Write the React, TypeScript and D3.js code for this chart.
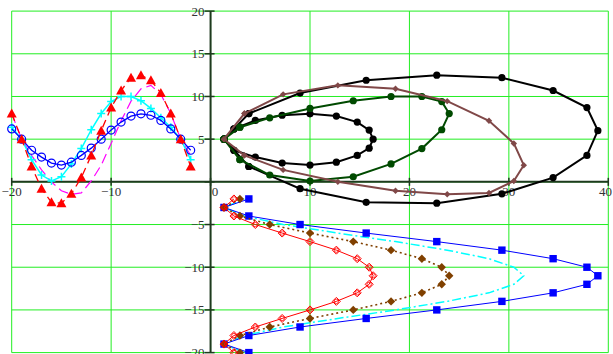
import React from "react";
import * as d3 from "d3";

// parameter values (left group x, bottom group y)
const tVals = [-20, -19, -18, -17, -16, -15, -14, -13, -12, -11, -10, -9, -8, -7, -6, -5, -4, -3, -2];

// "A" series (vertical values of left and top-right groups)
const A1 = [6.2, 5.0, 3.7, 2.9, 2.2, 1.96, 2.3, 3.1, 3.95, 5.0, 6.06, 7.0, 7.7, 7.97, 7.8, 7.2, 6.2, 5.0, 3.7];
const A2 = [6.4, 5.0, 2.6, 0.8, 0.1, 0.6, 2.1, 3.9, 6.1, 8.0, 9.4, 10.0, 10.0, 9.5, 8.6, 7.5, 6.4, 5.0, 2.6];
const A3 = [8.0, 5.0, 1.8, -0.8, -2.4, -2.5, -1.4, 0.5, 3.1, 6.0, 8.7, 10.7, 12.2, 12.5, 11.9, 10.4, 8.0, 5.0, 1.8];
const A4 = [8.0, 5.0, 3.1, 1.4, 0.0, -1.05, -1.45, -1.3, 0.1, 1.95, 4.5, 7.15, 9.45, 10.9, 11.3, 10.25, 8.0, 5.0, 3.1];

// "B" series (horizontal values of top-right and bottom groups)
const B1 = [2.35, 1.35, 2.35, 4.5, 7.2, 10.0, 12.65, 14.75, 15.95, 16.35, 15.95, 14.75, 12.65, 10.0, 7.2, 4.5, 2.35, 1.35, 2.35];
const B2 = [2.95, 1.35, 2.95, 5.95, 10.0, 14.35, 18.15, 21.25, 23.25, 24.0, 23.25, 21.25, 18.15, 14.35, 10.0, 5.95, 2.95, 1.35, 2.95];
const B3 = [3.85, 1.35, 3.85, 9.0, 15.65, 22.75, 29.3, 34.45, 37.85, 38.95, 37.85, 34.45, 29.3, 22.75, 15.65, 9.0, 3.85, 1.35, 3.85];
const B4 = [3.4, 1.35, 3.4, 7.3, 12.8, 18.6, 23.8, 28.0, 30.5, 31.5, 30.5, 28.0, 23.8, 18.6, 12.8, 7.3, 3.4, 1.35, 3.4];

const xTicks = [-20, -10, 0, 10, 20, 30, 40];
const yTicks = [20, 15, 10, 5, 0, -5, -10, -15, -20];
const xTickLabels = ["\u221220", "\u221210", "0", "10", "20", "30", "40"];
const yTickLabels = ["20", "15", "10", "5", "", "\u22125", "\u221210", "\u221215", "\u221220"];

const W = 613;
const H = 354;

type Pt = [number, number];

export default function App() {
  const x = d3.scaleLinear().domain([-20, 40]).range([11.7, 608.3]);
  const y = d3.scaleLinear().domain([-20, 20]).range([352.6, 11.1]);
  const line = d3
    .line<Pt>()
    .x((d) => x(d[0]))
    .y((d) => y(d[1]));

  const pairs = (xs: number[], ys: number[]): Pt[] => xs.map((v, i) => [v, ys[i]]);

  // left group
  const L1 = pairs(tVals, A1);
  const L2 = pairs(tVals, A2);
  const L3 = pairs(tVals, A3);
  const L4 = pairs(tVals, A4);
  // top-right group
  const R1 = pairs(B1, A1);
  const R2 = pairs(B2, A2);
  const R3 = pairs(B3, A3);
  const R4 = pairs(B4, A4);
  // bottom group
  const D1 = pairs(B1, tVals);
  const D2 = pairs(B2, tVals);
  const D3 = pairs(B3, tVals);
  const D4 = pairs(B4, tVals);

  const x0 = x(0);
  const y0 = y(0);
  const gridColor = "#22ee22";
  const axisColor = "#1e3a1e";

  const diamond = (cx: number, cy: number, r: number) =>
    `M${cx},${cy - r}L${cx + r},${cy}L${cx},${cy + r}L${cx - r},${cy}Z`;

  const xLabelPos = (v: number) => {
    if (v === 0) return { x: x(v) + 4.5, anchor: "middle" };
    if (v === 40) return { x: W - 1, anchor: "end" };
    return { x: x(v), anchor: "middle" };
  };

  return (
    <svg
      width={W}
      height={H}
      style={{ position: "absolute", left: 0, top: 0, background: "#fff" }}
      fontFamily="'Liberation Serif', 'Times New Roman', serif"
    >
      <rect x={0} y={0} width={W} height={H} fill="#fff" />
      {/* grid */}
      {xTicks.map((v) => (
        <line key={"gx" + v} x1={x(v)} x2={x(v)} y1={y(20)} y2={y(-20)} stroke={gridColor} strokeWidth={1} />
      ))}
      {yTicks.map((v) => (
        <line key={"gy" + v} x1={x(-20)} x2={x(40)} y1={y(v)} y2={y(v)} stroke={gridColor} strokeWidth={1} />
      ))}
      {/* axes */}
      <line x1={x(-20)} x2={x(40)} y1={y0} y2={y0} stroke={axisColor} strokeWidth={2} />
      <line x1={x0} x2={x0} y1={y(20)} y2={y(-20)} stroke={axisColor} strokeWidth={2} />
      {xTicks.map((v) => (
        <line key={"tx" + v} x1={x(v)} x2={x(v)} y1={y0 - 4} y2={y0 + 4} stroke={axisColor} strokeWidth={1.5} />
      ))}
      {yTicks.map((v) => (
        <line key={"ty" + v} x1={x0 - 6} x2={x0 + 4} y1={y(v)} y2={y(v)} stroke={axisColor} strokeWidth={1.5} />
      ))}
      {/* tick labels */}
      {xTicks.map((v, i) => {
        const p = xLabelPos(v);
        return (
          <text key={"lx" + v} x={p.x} y={y0 + 14} textAnchor={p.anchor} fontSize={13} fill="#333">
            {xTickLabels[i]}
          </text>
        );
      })}
      {yTicks.map((v, i) => (
        <text key={"ly" + v} x={x0 - 6} y={y(v) + 4.5} textAnchor="end" fontSize={13} fill="#333">
          {yTickLabels[i]}
        </text>
      ))}

      <g>
        {/* ---------- left group ---------- */}
        <path d={line(L4)!} fill="none" stroke="#ff00ff" strokeWidth={1.2} strokeDasharray="10 5" />
        <path d={line(L2)!} fill="none" stroke="#00ffff" strokeWidth={1.5} />
        {L2.map((d, i) => (
          <path
            key={"p2" + i}
            d={`M${x(d[0]) - 4},${y(d[1])}H${x(d[0]) + 4}M${x(d[0])},${y(d[1]) - 4}V${y(d[1]) + 4}`}
            stroke="#00ffff"
            strokeWidth={1.5}
          />
        ))}
        <path d={line(L1)!} fill="none" stroke="#0000ff" strokeWidth={1.3} />
        {L1.map((d, i) => (
          <circle key={"c1" + i} cx={x(d[0])} cy={y(d[1])} r={4} fill="none" stroke="#0000ff" strokeWidth={1.2} />
        ))}
        <path d={line(L3)!} fill="none" stroke="#ff0000" strokeWidth={1.3} strokeDasharray="8 5" />
        {L3.map((d, i) => (
          <path
            key={"t3" + i}
            d={`M${x(d[0])},${y(d[1]) - 5}L${x(d[0]) + 5},${y(d[1]) + 4}L${x(d[0]) - 5},${y(d[1]) + 4}Z`}
            fill="#ff0000"
          />
        ))}

        {/* ---------- top-right group ---------- */}
        <path d={line(R3)!} fill="none" stroke="#000" strokeWidth={2} />
        {R3.map((d, i) => (
          <circle key={"r3" + i} cx={x(d[0])} cy={y(d[1])} r={3.6} fill="#000" />
        ))}
        <path d={line(R1)!} fill="none" stroke="#000" strokeWidth={2} />
        {R1.map((d, i) => (
          <circle key={"r1" + i} cx={x(d[0])} cy={y(d[1])} r={3.6} fill="#000" />
        ))}
        <path d={line(R2)!} fill="none" stroke="#004a00" strokeWidth={2} />
        {R2.map((d, i) => (
          <circle key={"r2" + i} cx={x(d[0])} cy={y(d[1])} r={3.6} fill="#004a00" />
        ))}
        <path d={line(R4)!} fill="none" stroke="#804848" strokeWidth={2} />
        {R4.map((d, i) => (
          <path key={"r4" + i} d={diamond(x(d[0]), y(d[1]), 3.2)} fill="#804848" />
        ))}

        {/* ---------- bottom group ---------- */}
        <path d={line(D4)!} fill="none" stroke="#00ffff" strokeWidth={1.5} strokeDasharray="9 3 2 3" />
        <path d={line(D3)!} fill="none" stroke="#0000ff" strokeWidth={1} />
        {D3.map((d, i) => (
          <rect key={"d3" + i} x={x(d[0]) - 3.7} y={y(d[1]) - 3.7} width={7.4} height={7.4} fill="#0000ff" />
        ))}
        <path d={line(D2)!} fill="none" stroke="#804000" strokeWidth={1.6} strokeDasharray="2 3" />
        {D2.map((d, i) => (
          <path key={"d2" + i} d={diamond(x(d[0]), y(d[1]), 4.2)} fill="#804000" />
        ))}
        <path d={line(D1)!} fill="none" stroke="#ff0000" strokeWidth={1} />
        {D1.map((d, i) => (
          <g key={"d1" + i}>
            <path d={diamond(x(d[0]), y(d[1]), 4)} fill="none" stroke="#ff0000" strokeWidth={1} />
            <circle cx={x(d[0])} cy={y(d[1])} r={2.2} fill="none" stroke="#ff0000" strokeWidth={0.8} />
          </g>
        ))}
      </g>
    </svg>
  );
}
